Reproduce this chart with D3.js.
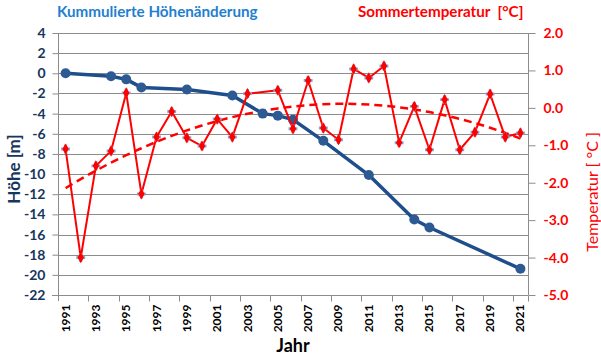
<!DOCTYPE html>
<html>
<head>
<meta charset="utf-8">
<script src="https://cdn.jsdelivr.net/npm/d3@7"></script>
<style>
  body { margin: 0; background: #fff; }
  svg { display: block; font-family: Lato, "Liberation Sans", sans-serif; }
</style>
</head>
<body>
<svg id="chart" width="601" height="356"></svg>
<script>
// Data
const years = d3.range(1991, 2022);
const heightYears = [1991, 1994, 1995, 1996, 1999, 2002, 2004, 2005, 2006, 2008, 2011, 2014, 2015, 2021];
const heightValues = [0, -0.3, -0.6, -1.4, -1.6, -2.2, -4.0, -4.2, -4.6, -6.7, -10.1, -14.5, -15.3, -19.4];
const tempYears = [1991, 1992, 1993, 1994, 1995, 1996, 1997, 1998, 1999, 2000, 2001, 2002, 2003,
    2005, 2006, 2007, 2008, 2009, 2010, 2011, 2012, 2013, 2014, 2015, 2016, 2017, 2018, 2019, 2020, 2021];
const tempValues = [-1.1, -4.0, -1.55, -1.15, 0.4, -2.3, -0.78, -0.1, -0.8, -1.02, -0.3, -0.78, 0.38,
    0.47, -0.56, 0.73, -0.54, -0.85, 1.04, 0.8, 1.12, -0.93, 0.04, -1.12, 0.22, -1.12, -0.65, 0.37, -0.78, -0.67];
const leftTicks = d3.range(-22, 5, 2);
const rightTicks = d3.range(-5, 3, 1);
const yearLabels = years.filter((y, i) => i % 2 === 0);

// Scales
const svg = d3.select("#chart");
const x = d3.scaleBand().domain(years).range([58, 528]);
const yLeft = d3.scaleLinear().domain([-22, 4]).range([295, 33]);
const yRight = d3.scaleLinear().domain([-5, 2]).range([295, 33]);
const cx = yr => x(yr) + x.bandwidth() / 2;

// quadratic trend (least squares) of the temperature series
const trend = (() => {
    const n = tempYears.length;
    const xs = tempYears.map(y => y - 2006);
    const s = k => d3.sum(xs, v => Math.pow(v, k));
    const sy = k => d3.sum(xs, (v, i) => Math.pow(v, k) * tempValues[i]);
    const A = [[n, s(1), s(2)], [s(1), s(2), s(3)], [s(2), s(3), s(4)]];
    const B = [sy(0), sy(1), sy(2)];
    // gaussian elimination
    for (let i = 0; i < 3; i++) {
        for (let j = i + 1; j < 3; j++) {
            const f = A[j][i] / A[i][i];
            for (let k = i; k < 3; k++) A[j][k] -= f * A[i][k];
            B[j] -= f * B[i];
        }
    }
    const c = [0, 0, 0];
    for (let i = 2; i >= 0; i--) {
        let t = B[i];
        for (let k = i + 1; k < 3; k++) t -= A[i][k] * c[k];
        c[i] = t / A[i][i];
    }
    return yr => c[0] + c[1] * (yr - 2006) + c[2] * (yr - 2006) * (yr - 2006);
})();

// Gridlines
svg.append("g")
    .attr("stroke", "#8c8c8c")
    .attr("stroke-width", 1)
    .selectAll("line")
    .data(leftTicks)
    .join("line")
    .attr("x1", 58).attr("x2", 528)
    .attr("y1", d => Math.round(yLeft(d)) + 0.5)
    .attr("y2", d => Math.round(yLeft(d)) + 0.5);

// Left axis
const leftAxis = svg.append("g")
    .attr("transform", "translate(58.5,0)")
    .call(d3.axisLeft(yLeft).tickValues(leftTicks).tickSize(6).tickPadding(7).tickFormat(d3.format("d")));
leftAxis.select(".domain").attr("stroke", "#8c8c8c").attr("d", "M0,33V301");
leftAxis.selectAll(".tick line").attr("stroke", "#8c8c8c");
leftAxis.selectAll(".tick text")
    .attr("fill", "#17365d")
    .style("font-size", "14px")
    .style("font-weight", "bold")
    .style("font-family", "Lato, sans-serif")
    .text(d => d < 0 ? "-" + Math.abs(d) : d);

// Right axis
const rightAxis = svg.append("g")
    .attr("transform", "translate(528.5,0)")
    .call(d3.axisRight(yRight).tickValues(rightTicks).tickSize(7).tickPadding(8).tickFormat(d => d < 0 ? "-" + Math.abs(d).toFixed(1) : d.toFixed(1)));
rightAxis.select(".domain").attr("stroke", "#8c8c8c").attr("d", "M0,33V295");
rightAxis.selectAll(".tick line").attr("stroke", "#8c8c8c");
rightAxis.selectAll(".tick text")
    .attr("fill", "#ff0000")
    .style("font-size", "14px")
    .style("font-weight", "bold")
    .style("font-family", "Lato, sans-serif");

// Bottom axis
const bottom = svg.append("g").attr("transform", "translate(0,295.5)");
bottom.append("line")
    .attr("x1", 52).attr("x2", 528)
    .attr("stroke", "#8c8c8c");
bottom.selectAll(".tk")
    .data(yearLabels.slice(1).concat([2022]))
    .join("line")
    .attr("class", "tk")
    .attr("x1", d => Math.round(d === 2022 ? 528 : x(d)) + 0.5)
    .attr("x2", d => Math.round(d === 2022 ? 528 : x(d)) + 0.5)
    .attr("y1", 0).attr("y2", 6)
    .attr("stroke", "#8c8c8c");
bottom.selectAll("text")
    .data(yearLabels)
    .join("text")
    .attr("transform", d => `translate(${cx(d) + 4},9) rotate(-90)`)
    .attr("text-anchor", "end")
    .attr("fill", "#000")
    .style("font-size", "12px")
    .style("font-weight", "bold")
    .text(d => d);

// Trend line
svg.append("path")
    .datum(years)
    .attr("fill", "none")
    .attr("stroke", "#ff0000")
    .attr("stroke-width", 2.5)
    .attr("stroke-dasharray", "8,5")
    .attr("d", d3.line().x(d => cx(d)).y(d => yRight(trend(d))).curve(d3.curveMonotoneX));

// Height line
svg.append("path")
    .datum(heightYears)
    .attr("fill", "none")
    .attr("stroke", "#1f4e8c")
    .attr("stroke-width", 3.5)
    .attr("stroke-linejoin", "round")
    .attr("d", d3.line().x(d => cx(d)).y((d, i) => yLeft(heightValues[i])));

svg.append("g")
    .attr("fill", "#2e5a94")
    .selectAll("circle")
    .data(heightYears)
    .join("circle")
    .attr("cx", d => cx(d))
    .attr("cy", (d, i) => yLeft(heightValues[i]))
    .attr("r", 5);

// Temperature line
svg.append("path")
    .datum(tempYears)
    .attr("fill", "none")
    .attr("stroke", "#ff0000")
    .attr("stroke-width", 2)
    .attr("stroke-linejoin", "round")
    .attr("d", d3.line().x(d => cx(d)).y((d, i) => yRight(tempValues[i])));

const markers = svg.append("g")
    .selectAll("g")
    .data(tempYears)
    .join("g")
    .attr("transform", (d, i) => `translate(${cx(d)},${yRight(tempValues[i])})`);
markers.append("path")
    .attr("d", d3.symbol(d3.symbolCross, 44))
    .attr("fill", "#8ea6cf");
markers.append("path")
    .attr("d", d3.symbol(d3.symbolDiamond, 36))
    .attr("fill", "#ff0000");

// Titles
svg.append("text")
    .attr("x", 57).attr("y", 17)
    .attr("fill", "#1f7fd0")
    .style("font-size", "15.2px")
    .style("font-weight", "bold")
    .text("Kummulierte Höhenänderung");

svg.append("text")
    .attr("x", 358).attr("y", 17)
    .attr("fill", "#ff0000")
    .style("font-size", "15.2px")
    .style("font-weight", "bold")
    .style("white-space", "pre")
    .text("Sommertemperatur  [°C]");

svg.append("text")
    .attr("transform", "translate(20,169) rotate(-90)")
    .attr("text-anchor", "middle")
    .attr("fill", "#17365d")
    .style("font-size", "17px")
    .style("font-weight", "bold")
    .text("Höhe [m]");

svg.append("text")
    .attr("transform", "translate(598,192) rotate(-90)")
    .attr("text-anchor", "middle")
    .attr("fill", "#ff0000")
    .style("font-size", "16px")
    .style("white-space", "pre")
    .text("Temperatur [ °C ]");

svg.append("text")
    .attr("x", 293).attr("y", 352)
    .attr("text-anchor", "middle")
    .attr("fill", "#000")
    .style("font-size", "18px")
    .style("font-weight", "bold")
    .text("Jahr");
</script>
</body>
</html>
